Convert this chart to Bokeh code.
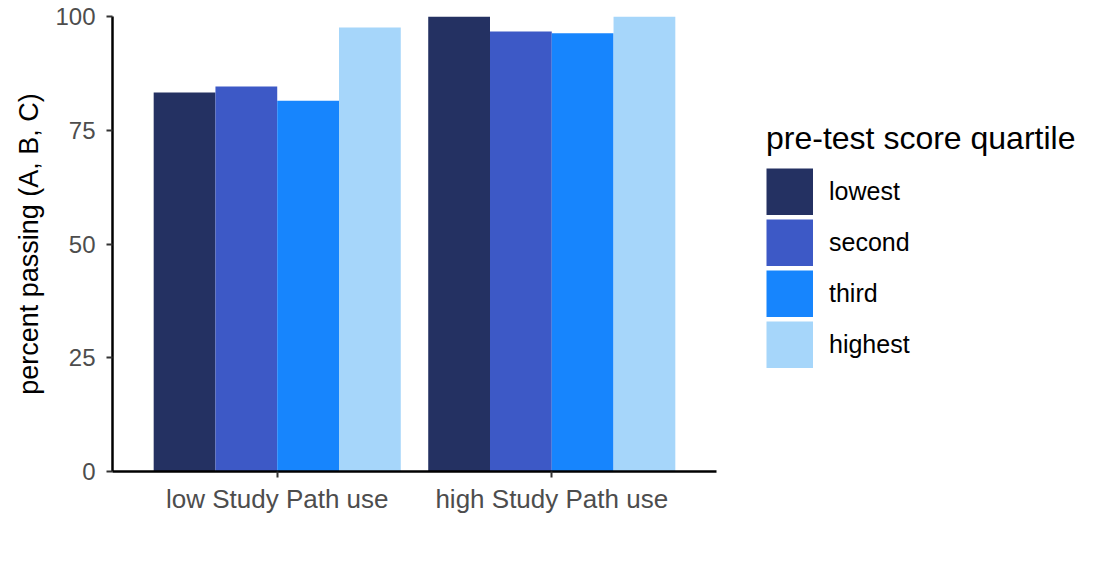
from bokeh.plotting import figure
from bokeh.models import ColumnDataSource, FactorRange, Legend, LegendItem, FixedTicker
from bokeh.transform import dodge
from bokeh.embed import file_html
from bokeh.resources import INLINE

categories = ["low Study Path use", "high Study Path use"]
quartiles = ["lowest", "second", "third", "highest"]
lowest = [83.3, 100.0]
second = [84.6, 96.7]
third = [81.5, 96.3]
highest = [97.6, 100.0]
colors = ["#243162", "#3D59C6", "#1785FD", "#A6D6FA"]
y_ticks = [0, 25, 50, 75, 100]

source = ColumnDataSource(dict(cat=categories, lowest=lowest, second=second,
                               third=third, highest=highest))

FONT = "Liberation Sans"

p = figure(x_range=FactorRange(*categories, range_padding=0.1), y_range=(0, 100),
           frame_width=604, frame_height=455, output_backend="svg", toolbar_location=None,
           min_border_left=112, min_border_top=16, min_border_bottom=74, min_border_right=10)

w = 0.225
offsets = [-1.5 * w, -0.5 * w, 0.5 * w, 1.5 * w]
key_renderers = []
for q, off, c in zip(quartiles, offsets, colors):
    p.vbar(x=dodge("cat", off, range=p.x_range), top=q, width=w, source=source,
           fill_color=c, line_color=None)
    # legend key only: a thick line swatch whose single point is NaN (draws nothing in the plot)
    kr = p.line(x=[categories[0]], y=[float("nan")], line_color=c, line_width=47,
                line_cap="butt")
    key_renderers.append(kr)

legend = Legend(items=[LegendItem(label=q, renderers=[r]) for q, r in zip(quartiles, key_renderers)],
                location="left", title="pre-test score quartile",
                title_text_font=FONT, title_text_font_size="32px", title_text_color="#000000",
                title_text_font_style="normal", title_standoff=11,
                label_text_font=FONT, label_text_font_size="25px", label_text_color="#000000",
                glyph_width=47, glyph_height=47, spacing=4, label_standoff=16,
                padding=0, margin=50, border_line_color=None, background_fill_alpha=0)
p.add_layout(legend, "right")

p.xgrid.visible = False
p.ygrid.visible = False
p.outline_line_color = None

p.yaxis.ticker = FixedTicker(ticks=y_ticks)
p.yaxis.minor_tick_line_color = None
for ax in (p.xaxis[0], p.yaxis[0]):
    ax.axis_line_color = "#000000"
    ax.axis_line_width = 2.5
    ax.major_tick_line_color = "#333333"
    ax.major_tick_line_width = 2
    ax.major_tick_out = 6
    ax.major_tick_in = 0
    ax.major_label_text_font = FONT
    ax.major_label_text_color = "#4D4D4D"
p.yaxis.major_label_text_font_size = "24px"
p.xaxis.major_label_text_font_size = "26px"
p.yaxis.major_label_standoff = 11
p.xaxis.major_label_standoff = 6

p.yaxis.axis_label = "percent passing (A, B, C)"
p.yaxis.axis_label_text_font = FONT
p.yaxis.axis_label_text_font_size = "27px"
p.yaxis.axis_label_text_font_style = "normal"
p.yaxis.axis_label_text_color = "#000000"
p.yaxis.axis_label_standoff = 8
p.xaxis.major_label_orientation = "horizontal"

open("out.html", "w").write(file_html(p, INLINE))
